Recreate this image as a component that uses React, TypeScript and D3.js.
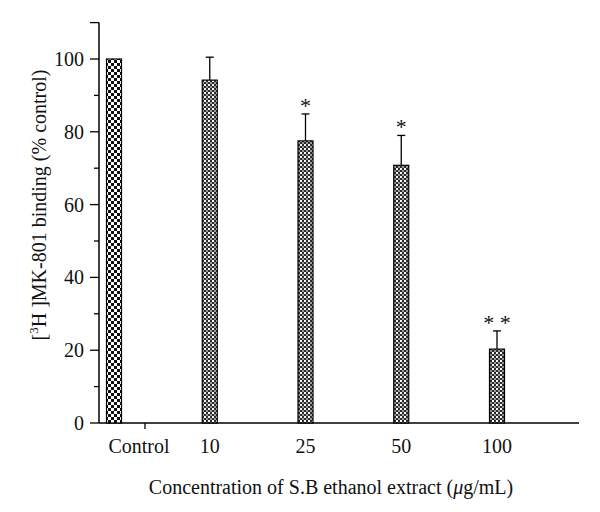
import React from "react";
import * as d3 from "d3";

const categories = ["Control", "10", "25", "50", "100"];
const means = [100, 94.2, 77.5, 70.8, 20.3];
const errors = [0, 6.3, 7.4, 8.2, 5.0];
const significance = ["", "", "*", "*", "* *"];
const yTicks = [0, 20, 40, 60, 80, 100];
const yMinorTicks = [10, 30, 50, 70, 90, 110];

const W = 600;
const H = 512;
const FONT = "'Liberation Serif', 'DejaVu Serif', serif";
const FS = 20;

export default function App() {
  const y = d3.scaleLinear().domain([0, 110]).range([423, 22.6]);
  const x = d3.scaleLinear().domain([0, 4]).range([114, 497]);
  const axisX0 = 99;
  const axisX1 = 579;
  const barW = 15;

  return (
    <svg width={W} height={H} style={{ position: "absolute", left: 0, top: 0, background: "#fff" }}>
      <defs>
        <pattern id="chkA" width="6" height="6" patternUnits="userSpaceOnUse">
          <rect width="6" height="6" fill="#fff" />
          <rect x="0" y="0" width="3" height="3" fill="#111" />
          <rect x="3" y="3" width="3" height="3" fill="#111" />
        </pattern>
        <pattern id="chkB" width="4" height="4" patternUnits="userSpaceOnUse">
          <rect width="4" height="4" fill="#2a2a2a" />
          <rect x="0" y="0" width="2" height="2" fill="#f4f4f4" />
          <rect x="2" y="2" width="2" height="2" fill="#9a9a9a" />
        </pattern>
      </defs>

      {/* y axis */}
      <line x1={axisX0} x2={axisX0} y1={y(110)} y2={y(0)} stroke="#000" strokeWidth={1.5} />
      {yTicks.map((t) => (
        <g key={"t" + t}>
          <line x1={axisX0 - 9} x2={axisX0} y1={y(t)} y2={y(t)} stroke="#000" strokeWidth={1.3} />
          <text x={84} y={y(t)} dy="0.35em" textAnchor="end" fontFamily={FONT} fontSize={FS} fill="#111">
            {t}
          </text>
        </g>
      ))}
      {yMinorTicks.map((t) => (
        <line key={"m" + t} x1={axisX0 - (t === 110 ? 9 : 5)} x2={axisX0} y1={y(t)} y2={y(t)} stroke="#000" strokeWidth={1.3} />
      ))}

      {/* x axis */}
      <line x1={axisX0} x2={axisX1} y1={y(0)} y2={y(0)} stroke="#000" strokeWidth={1.5} />
      <line x1={145} x2={145} y1={y(0)} y2={y(0) + 6} stroke="#000" strokeWidth={1.3} />

      {/* bars */}
      {means.map((m, i) => {
        const cx = x(i);
        return (
          <g key={"b" + i}>
            {errors[i] > 0 && (
              <g>
                <line x1={cx} x2={cx} y1={y(m)} y2={y(m + errors[i])} stroke="#000" strokeWidth={1.3} />
                <line x1={cx - 4} x2={cx + 4} y1={y(m + errors[i])} y2={y(m + errors[i])} stroke="#000" strokeWidth={1.3} />
              </g>
            )}
            <rect
              x={cx - barW / 2}
              y={y(m)}
              width={barW}
              height={y(0) - y(m)}
              fill={i === 0 ? "url(#chkA)" : "url(#chkB)"}
              stroke="#000"
              strokeWidth={1.2}
            />
            {significance[i] && (
              <text
                x={cx}
                y={y(m + errors[i]) - 1}
                textAnchor="middle"
                fontFamily={FONT}
                fontSize={22}
                fill="#111"
                style={{ whiteSpace: "pre" }}
              >
                {significance[i]}
              </text>
            )}
          </g>
        );
      })}

      {/* x labels */}
      {categories.map((c, i) => (
        <text
          key={"l" + i}
          x={i === 0 ? x(0) + 25 : x(i)}
          y={453}
          textAnchor="middle"
          fontFamily={FONT}
          fontSize={FS}
          fill="#111"
        >
          {c}
        </text>
      ))}

      <text x={331} y={494} textAnchor="middle" fontFamily={FONT} fontSize={FS} fill="#111">
        Concentration of S.B ethanol extract (<tspan fontStyle="italic">μ</tspan>g/mL)
      </text>

      <text
        transform={`translate(46, ${205}) rotate(-90)`}
        textAnchor="middle"
        fontFamily={FONT}
        fontSize={FS}
        fill="#111"
        style={{ whiteSpace: "pre" }}
      >
        [<tspan fontSize={13} dy={-8}>3</tspan>
        <tspan dy={8}>H ]MK-801 binding (% control)</tspan>
      </text>
    </svg>
  );
}
